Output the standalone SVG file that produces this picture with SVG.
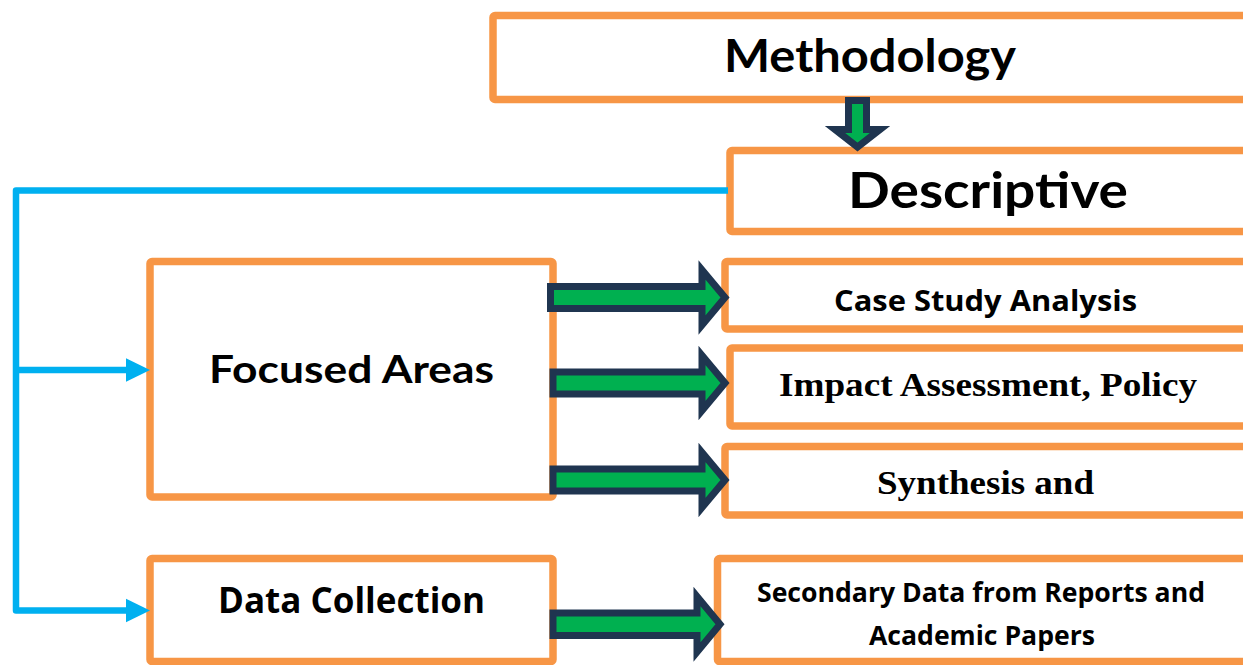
<svg xmlns="http://www.w3.org/2000/svg" width="1243" height="665" viewBox="0 0 1243 665">
<style>
.box{fill:#FFFFFF;stroke:#F79646;stroke-width:7.5}
.fat{fill:#00B050;stroke:#1F3550;stroke-width:7;stroke-linejoin:miter;stroke-miterlimit:10}
.blue{fill:none;stroke:#00B0F0;stroke-width:6.5;stroke-linejoin:round}
.bh{fill:#00B0F0}
.gill{font-family:Lato,"DejaVu Sans",sans-serif;font-weight:bold;fill:#000}
.cal{font-family:"Open Sans","Liberation Sans",sans-serif;font-weight:bold;fill:#000}
.tnr{font-family:"Liberation Serif","Times New Roman",serif;font-weight:bold;fill:#000}
</style>
<rect width="1243" height="665" fill="#FFFFFF"/>
<g id="methodology">
<rect class="box" x="493" y="15.5" width="760" height="84" rx="2"/>
<text class="gill" x="870" y="72" text-anchor="middle" font-size="46" textLength="292" lengthAdjust="spacingAndGlyphs">Methodology</text>
</g>
<g id="descriptive">
<rect class="box" x="730" y="150.5" width="523" height="81" rx="2"/>
<text class="gill" x="988" y="208" text-anchor="middle" font-size="50" textLength="280" lengthAdjust="spacingAndGlyphs">Descriptive</text>
</g>
<g id="focused-areas">
<rect class="box" x="150" y="261.5" width="403" height="235.5" rx="2"/>
<text class="gill" x="351.5" y="383" text-anchor="middle" font-size="38" textLength="285" lengthAdjust="spacingAndGlyphs">Focused Areas</text>
</g>
<g id="data-collection">
<rect class="box" x="150" y="558.5" width="403" height="103" rx="2"/>
<text class="cal" x="351.5" y="613" text-anchor="middle" font-size="35" textLength="267" lengthAdjust="spacingAndGlyphs">Data Collection</text>
</g>
<g id="case-study">
<rect class="box" x="725" y="261.5" width="528" height="67.5" rx="2"/>
<text class="cal" x="985.5" y="311" text-anchor="middle" font-size="28" textLength="303" lengthAdjust="spacingAndGlyphs">Case Study Analysis</text>
</g>
<g id="impact">
<rect class="box" x="730" y="348" width="523" height="78" rx="2"/>
<text class="tnr" x="988" y="396" text-anchor="middle" font-size="34" textLength="418" lengthAdjust="spacingAndGlyphs">Impact Assessment, Policy</text>
</g>
<g id="synthesis">
<rect class="box" x="725" y="446.5" width="528" height="68.5" rx="2"/>
<text class="tnr" x="985.5" y="494" text-anchor="middle" font-size="34" textLength="217" lengthAdjust="spacingAndGlyphs">Synthesis and</text>
</g>
<g id="secondary">
<rect class="box" x="717.5" y="558.5" width="535" height="103" rx="2"/>
<text class="cal" x="981" y="602" text-anchor="middle" font-size="26" textLength="448" lengthAdjust="spacingAndGlyphs">Secondary Data from Reports and</text>
<text class="cal" x="982" y="645" text-anchor="middle" font-size="26" textLength="226" lengthAdjust="spacingAndGlyphs">Academic Papers</text>
</g>
<g id="connectors">
<path class="blue" d="M728,190.5 H16 V610.5 H130 M16,370 H130"/>
<polygon class="bh" points="126,358.3 150,370 126,381.7"/>
<polygon class="bh" points="126,598.8 150,610.5 126,622.2"/>
<polygon class="fat" points="848.5,100.5 866.5,100.5 866.5,129.5 880,129.5 857.5,147 835,129.5 848.5,129.5"/>
<polygon class="fat" points="550.5,286.5 702,286.5 702,270 725,297.5 702,325 702,308.5 550.5,308.5"/>
<polygon class="fat" points="553,372 702,372 702,355.5 725,383 702,410.5 702,394 553,394"/>
<polygon class="fat" points="553,469 702,469 702,452.5 725,480 702,507.5 702,491 553,491"/>
<polygon class="fat" points="553,613 697,613 697,596.5 720,624.3 697,652 697,635.5 553,635.5"/>
</g>
</svg>
